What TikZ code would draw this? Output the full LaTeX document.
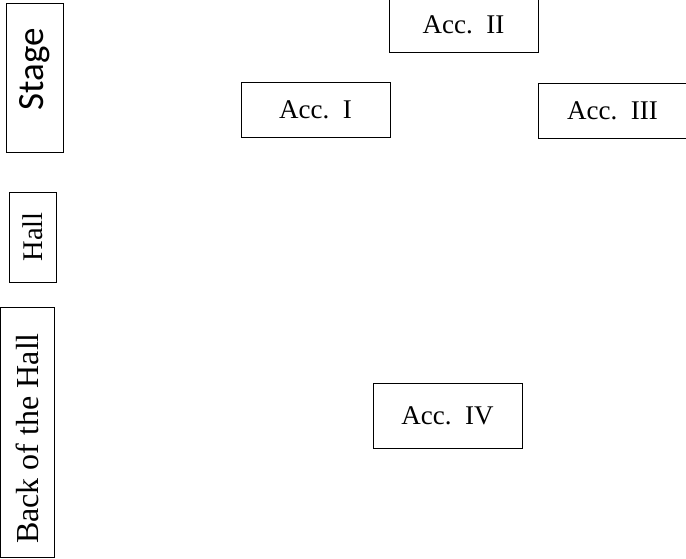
\documentclass[tikz,border=0pt]{standalone}
\usepackage{fontspec}
\setmainfont{Liberation Serif}
\newfontfamily\stagefont{Carlito}
\begin{document}
\begin{tikzpicture}[x=1pt, y=-1pt, box/.style={draw, line width=1pt, inner sep=0pt, font=\fontsize{27}{32}\selectfont}, side/.style={box, rotate=90}]
 \useasboundingbox (0,0) rectangle (686,558);
 \clip (0,0) rectangle (686,558);

 \node[side, minimum width=149pt, minimum height=57pt, font=\stagefont\fontsize{37}{44}\selectfont] (stage) at (34.5,77.5) {\hspace{16pt}Stage};
 \node[side, minimum width=90pt, minimum height=47pt, font=\fontsize{28.5}{34}\selectfont] (hall) at (32.5,237) {Hall};
 \node[side, minimum width=250pt, minimum height=54pt, font=\fontsize{32}{38}\selectfont] (back) at (27,432) {Back of the Hall\kern13pt\relax};

 \node[box, minimum width=149pt, minimum height=55pt] (acc1) at (315.5,109.5) {Acc.~~I};
 \node[box, minimum width=149pt, minimum height=55pt] (acc2) at (463.5,24.5) {Acc.~~II};
 \node[box, minimum width=149pt, minimum height=55pt] (acc3) at (612.5,110.5) {Acc.~~III};
 \node[box, minimum width=149pt, minimum height=65pt] (acc4) at (447.5,415.5) {Acc.~~IV};
\end{tikzpicture}
\end{document}
